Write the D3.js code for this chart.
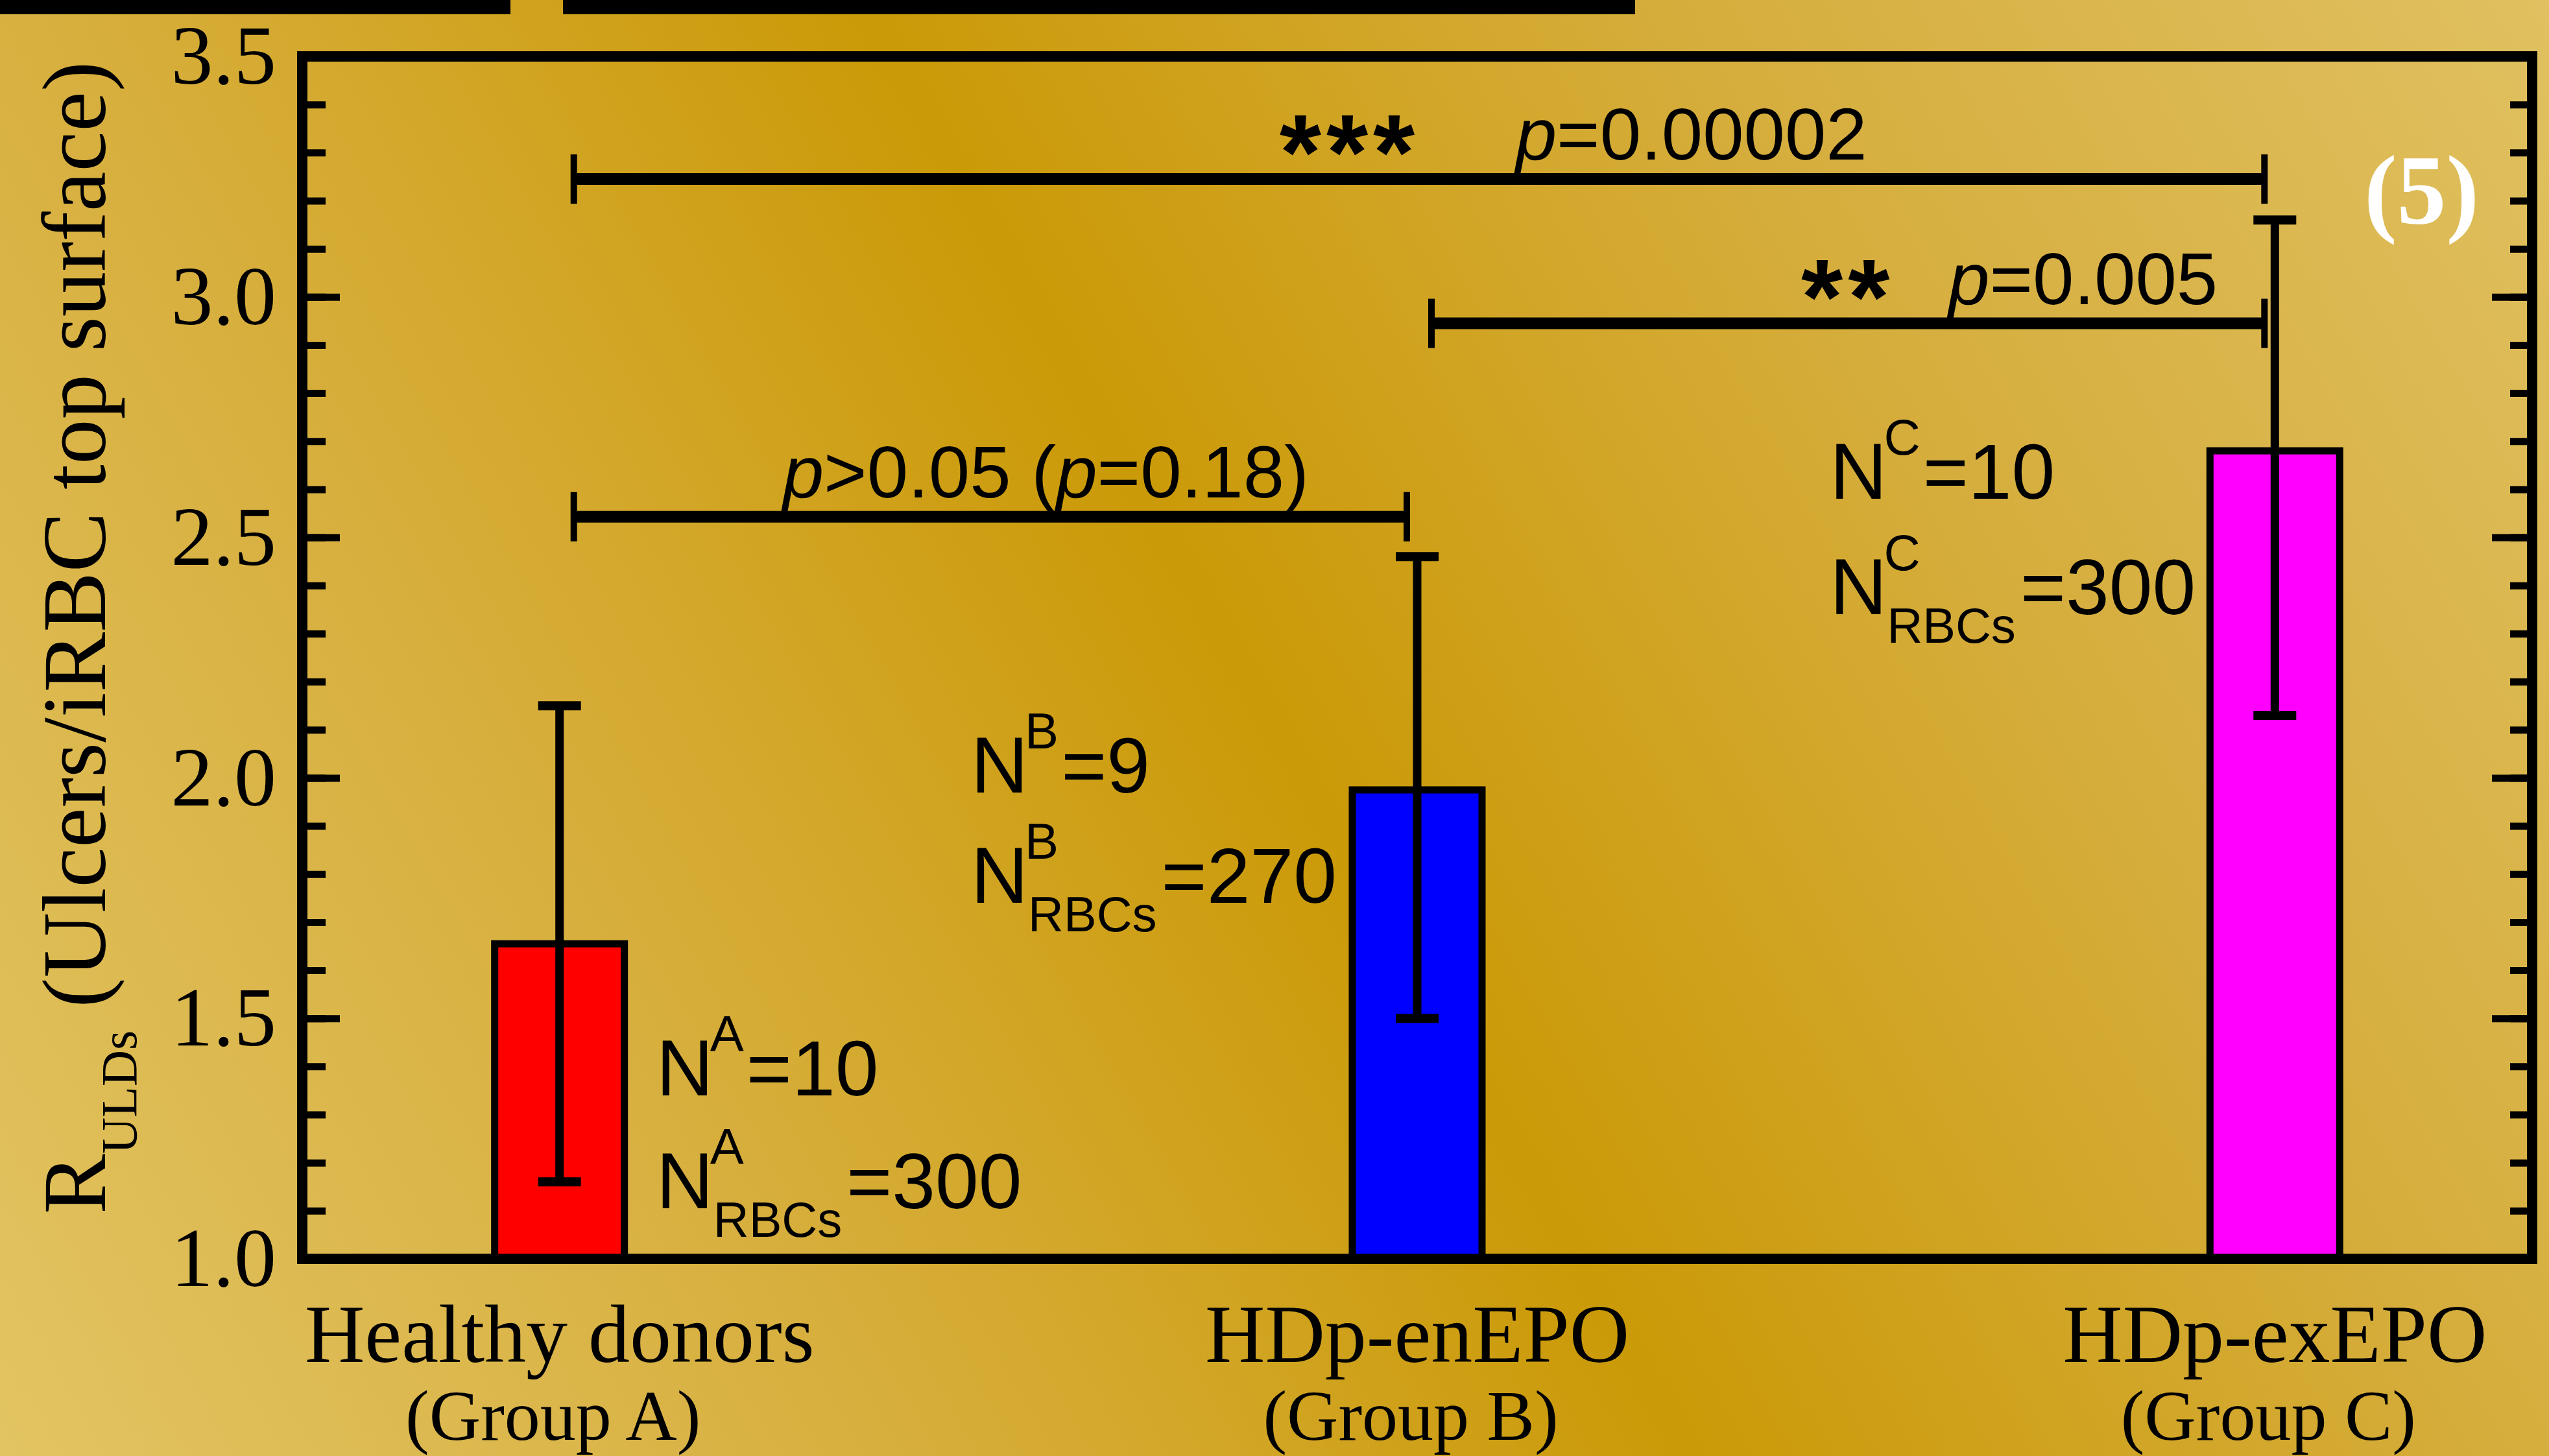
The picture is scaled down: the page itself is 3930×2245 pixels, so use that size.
<!DOCTYPE html>
<html>
<head>
<meta charset="utf-8">
<script src="https://cdn.jsdelivr.net/npm/d3@7"></script>
<style>
  body { margin: 0; overflow: hidden; }
  .serif { font-family: "Liberation Serif", "Times New Roman", serif; }
  .sans { font-family: "Liberation Sans", Arial, sans-serif; }
</style>
</head>
<body>
<div id="main-svg"></div>
<script>
// bar data
var groups = ["Healthy donors", "HDp-enEPO", "HDp-exEPO"];
var groupSub = ["(Group A)", "(Group B)", "(Group C)"];
var means = [1.655, 1.975, 2.68];
var errLow = [1.16, 1.50, 2.13];
var errHigh = [2.15, 2.46, 3.16];
var barColors = ["#ff0000", "#0000ff", "#ff00ff"];

var yTicks = [1.0, 1.5, 2.0, 2.5, 3.0, 3.5];

// significance brackets
var bracketFrom = [0, 1, 0];
var bracketTo = [2, 2, 1];
var bracketLevel = [3.245, 2.945, 2.543];
var bracketStars = ["***", "**", ""];
var bracketText = ["p=0.00002", "p=0.005", "p>0.05 (p=0.18)"];

// sample sizes
var nLetter = ["A", "B", "C"];
var nDonors = [10, 9, 10];
var nRBCs = [300, 270, 300];

var width = 3930;
var height = 2245;

var svg = d3.select("#main-svg").append("svg")
  .attr("width", width)
  .attr("height", height);

// background gradient (gold)
var defs = svg.append("defs");
var grad = defs.append("linearGradient")
  .attr("id", "bg")
  .attr("gradientUnits", "userSpaceOnUse")
  .attr("x1", 0).attr("y1", height)
  .attr("x2", width).attr("y2", 0);
[[0, "#e2c462"], [0.25, "#d8b040"], [0.5, "#cb9a08"], [0.75, "#d6ae3e"], [1, "#e0c060"]]
  .forEach(s => grad.append("stop").attr("offset", s[0]).attr("stop-color", s[1]));

svg.append("rect")
  .attr("width", width).attr("height", height)
  .attr("fill", "url(#bg)");

// the cut-off black strips along the top edge
svg.append("rect").attr("x", 0).attr("y", 0).attr("width", 787).attr("height", 22).attr("fill", "#000");
svg.append("rect").attr("x", 868).attr("y", 0).attr("width", 1653).attr("height", 22).attr("fill", "#000");

const frame = {left: 466, right: 3904, top: 87, bottom: 1941};

let x = d3.scalePoint()
  .domain(groups)
  .range([frame.left, frame.right])
  .padding(0.3);

let y = d3.scaleLinear()
  .domain([1.0, 3.5])
  .range([frame.bottom, frame.top]);

let minorTicks = d3.range(10, 36).map(d => d / 10);

// left axis: minor ticks, then major ticks with labels
svg.append("g")
  .attr("class", "axis minor")
  .attr("transform", `translate(${frame.left},0)`)
  .call(d3.axisLeft(y).tickValues(minorTicks).tickSize(-36).tickFormat(""));

svg.append("g")
  .attr("class", "axis yAxis serif")
  .attr("transform", `translate(${frame.left},0)`)
  .call(d3.axisLeft(y).tickValues(yTicks).tickSize(-58).tickPadding(40).tickFormat(d3.format(".1f")));

// right axis (ticks only)
svg.append("g")
  .attr("class", "axis minor")
  .attr("transform", `translate(${frame.right},0)`)
  .call(d3.axisRight(y).tickValues(minorTicks).tickSize(-34).tickFormat(""));

svg.append("g")
  .attr("class", "axis")
  .attr("transform", `translate(${frame.right},0)`)
  .call(d3.axisRight(y).tickValues(yTicks).tickSize(-62).tickFormat(""));

svg.selectAll(".axis .domain").remove();
svg.selectAll(".axis .tick line")
  .attr("stroke", "#000")
  .attr("stroke-width", 11);
svg.selectAll(".yAxis text")
  .attr("fill", "#000")
  .style("font-size", "130px");

// bars
let barW = 200;
svg.selectAll("rect.bar")
  .data(groups)
  .enter()
  .append("rect")
  .attr("class", "bar")
  .attr("x", d => x(d) - barW / 2)
  .attr("y", (d, i) => y(means[i]))
  .attr("width", barW)
  .attr("height", (d, i) => y(1.0) - y(means[i]))
  .attr("fill", (d, i) => barColors[i])
  .attr("stroke", "#000")
  .attr("stroke-width", 11);

// frame
svg.append("rect")
  .attr("x", frame.left)
  .attr("y", frame.top)
  .attr("width", frame.right - frame.left)
  .attr("height", frame.bottom - frame.top)
  .attr("fill", "none")
  .attr("stroke", "#000")
  .attr("stroke-width", 16);

// error bars
let capW = 66;
let err = svg.selectAll("g.err")
  .data(groups)
  .enter()
  .append("g")
  .attr("class", "err")
  .attr("stroke", "#000");

err.append("line")
  .attr("x1", d => x(d)).attr("x2", d => x(d))
  .attr("y1", (d, i) => y(errLow[i]))
  .attr("y2", (d, i) => y(errHigh[i]))
  .attr("stroke-width", 13);

err.append("line")
  .attr("x1", d => x(d) - capW / 2).attr("x2", d => x(d) + capW / 2)
  .attr("y1", (d, i) => y(errHigh[i])).attr("y2", (d, i) => y(errHigh[i]))
  .attr("stroke-width", 14);

err.append("line")
  .attr("x1", d => x(d) - capW / 2).attr("x2", d => x(d) + capW / 2)
  .attr("y1", (d, i) => y(errLow[i])).attr("y2", (d, i) => y(errLow[i]))
  .attr("stroke-width", 14);

// category labels
svg.selectAll("text.cat")
  .data(groups)
  .enter()
  .append("text")
  .attr("class", "cat serif")
  .attr("x", d => x(d))
  .attr("y", 2100)
  .style("text-anchor", "middle")
  .style("font-size", "128px")
  .text(d => d);

svg.selectAll("text.catSub")
  .data(groupSub)
  .enter()
  .append("text")
  .attr("class", "catSub serif")
  .attr("x", (d, i) => x(groups[i]) - 10)
  .attr("y", 2220)
  .style("text-anchor", "middle")
  .style("font-size", "110px")
  .text(d => d);

// y axis title
let yTitle = svg.append("text")
  .attr("class", "serif")
  .attr("transform", "translate(162,1872) rotate(-90)")
  .style("font-size", "139px");
yTitle.append("tspan").text("R");
yTitle.append("tspan").attr("dy", 48).style("font-size", "78px").text("ULDs");
yTitle.append("tspan").attr("dy", -48).text(" (Ulcers/iRBC top surface)");

// significance brackets
let bracketInsetL = 22, bracketInsetR = -16, bracketTickH = 38;
let pTextDx = [1452, 797, 322];   // start of p-text from bracket left end
let starDx = [1088, 570, 0];

bracketFrom.forEach((f, i) => {
  let x0 = x(groups[f]) + bracketInsetL;
  let x1 = x(groups[bracketTo[i]]) + bracketInsetR;
  let yl = y(bracketLevel[i]);
  let g = svg.append("g").attr("class", "bracket");
  g.append("line")
    .attr("x1", x0).attr("x2", x1).attr("y1", yl).attr("y2", yl)
    .attr("stroke", "#000").attr("stroke-width", 18);
  [x0, x1].forEach(xx => g.append("line")
    .attr("x1", xx).attr("x2", xx)
    .attr("y1", yl - bracketTickH).attr("y2", yl + bracketTickH)
    .attr("stroke", "#000").attr("stroke-width", 10));

  let t = g.append("text")
    .attr("class", "sans")
    .attr("x", x0 + pTextDx[i])
    .attr("y", yl - 30)
    .style("font-size", "114px");
  bracketText[i].split(/(p)/).filter(s => s.length).forEach(s => {
    t.append("tspan")
      .style("font-style", s == "p" ? "italic" : "normal")
      .text(s);
  });

  if (bracketStars[i]) {
    g.append("text")
      .attr("class", "sans")
      .attr("x", x0 + starDx[i])
      .attr("y", yl + 16)
      .style("font-size", "165px")
      .style("font-weight", "bold")
      .style("letter-spacing", "8px")
      .text(bracketStars[i]);
  }
});

// N annotations: offset from bar centre, baselines in data units
let nDx = [149, -688, -686];
let nLine1 = [1.34, 1.97, 2.58];
let nLine2 = [1.105, 1.74, 2.34];

function nLabel(x0, yBase, sup, sub, rest) {
  let g = svg.append("g").attr("class", "sans");
  let n = g.append("text").attr("x", x0).attr("y", yBase)
    .style("font-size", "122px").text("N");
  let nw = n.node().getComputedTextLength();
  let s1 = g.append("text").attr("x", x0 + nw - 5).attr("y", yBase - 68)
    .style("font-size", "78px").text(sup);
  let w = nw - 5 + s1.node().getComputedTextLength() + 4;
  if (sub) {
    let s2 = g.append("text").attr("x", x0 + nw).attr("y", yBase + 44)
      .style("font-size", "76px").text(sub);
    w = Math.max(w, nw + s2.node().getComputedTextLength() + 7);
  }
  g.append("text").attr("x", x0 + w).attr("y", yBase)
    .style("font-size", "120px").text(rest);
}

groups.forEach((gname, i) => {
  let x0 = x(gname) + nDx[i];
  nLabel(x0, y(nLine1[i]), nLetter[i], null, "=" + nDonors[i]);
  nLabel(x0, y(nLine2[i]), nLetter[i], "RBCs", "=" + nRBCs[i]);
});

// panel number
svg.append("text")
  .attr("class", "serif")
  .attr("x", 3645)
  .attr("y", 345)
  .attr("fill", "#fff")
  .style("font-weight", "bold")
  .style("font-size", "152px")
  .text("(5)");
</script>
</body>
</html>
